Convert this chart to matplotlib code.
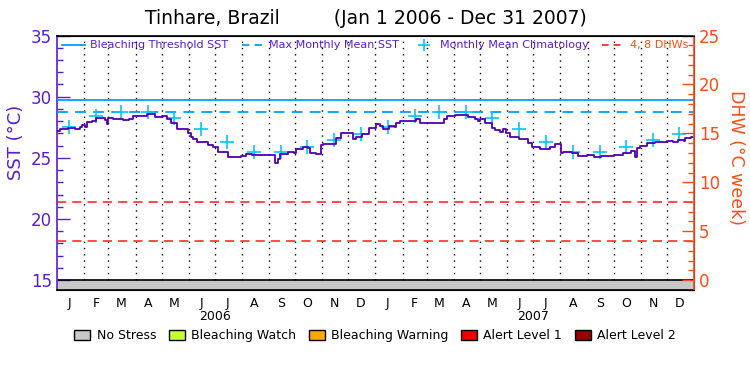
import numpy as np
import pandas as pd
import matplotlib
matplotlib.use('Agg')
import matplotlib.pyplot as plt
from matplotlib.lines import Line2D
from matplotlib.patches import Patch
from matplotlib.ticker import MultipleLocator
import matplotlib.transforms as mtransforms

# --- data ---
start = pd.Timestamp('2006-01-01')
end = pd.Timestamp('2008-01-01')

# daily SST (step changes), days since Jan 1 2006
sst_day = [0, 3, 13, 21, 26, 29, 32, 34, 40, 45, 55, 57, 59, 64, 76, 82, 87, 103,
           112, 120, 126, 131, 137, 150, 154, 156, 160, 173, 179, 185, 196, 211,
           217, 223, 250, 253, 255, 265, 272, 274, 282, 288, 290, 297, 303, 305,
           320, 326, 332, 339, 343, 349, 357, 366, 370, 374, 380, 387, 389, 393,
           412, 416, 433, 443, 447, 456, 471, 479, 483, 485, 490, 498, 502, 508,
           511, 515, 519, 529, 540, 544, 554, 565, 571, 578, 580, 590, 597, 607,
           615, 624, 638, 649, 658, 662, 665, 668, 676, 680, 685, 699, 706, 712,
           718, 720, 727, 730]
sst_val = [27.22, 27.33, 27.44, 27.38, 27.55, 27.68, 27.55, 27.93, 28.03, 28.23,
           28.09, 27.74, 28.23, 28.17, 28.09, 28.20, 28.44, 28.58, 28.36, 28.41,
           28.14, 27.82, 27.33, 27.00, 26.73, 26.52, 26.28, 26.06, 25.92, 25.46,
           25.08, 25.16, 25.30, 25.24, 24.57, 24.90, 25.30, 25.51, 25.42, 25.71,
           25.92, 25.80, 25.38, 25.30, 26.06, 26.14, 26.60, 27.00, 27.06, 26.52,
           26.68, 26.92, 27.41, 27.76, 27.60, 27.33, 27.60, 27.55, 27.87, 27.98,
           28.14, 27.87, 27.82, 28.20, 28.41, 28.50, 28.36, 28.14, 28.05, 28.20,
           27.87, 27.47, 27.25, 27.15, 27.33, 27.00, 26.73, 26.52, 26.25, 25.92,
           25.73, 25.90, 26.11, 25.43, 25.51, 25.38, 25.19, 25.24, 25.11, 25.16,
           25.24, 25.38, 25.57, 25.11, 25.79, 25.98, 26.20, 26.25, 26.33, 26.38,
           26.33, 26.46, 26.40, 26.60, 26.68, 26.68]

# monthly mean climatology (same for each year)
clim = [27.52, 28.41, 28.72, 28.72, 28.28, 27.33, 26.28, 25.49, 25.49, 25.92, 26.46, 26.95]
mmm = 28.72
threshold = 29.72
dhw_levels = [4, 8]

month_letters = ['J', 'F', 'M', 'A', 'M', 'J', 'J', 'A', 'S', 'O', 'N', 'D']
years = [2006, 2007]

stress_names = ['No Stress', 'Bleaching Watch', 'Bleaching Warning', 'Alert Level 1', 'Alert Level 2']
stress_colors = ['#c8c8c8', '#c8ff32', '#ffaa00', '#f00000', '#960000']

# --- colors ---
purple = '#5a1ecc'
line_purple = '#5000b4'
orange = '#ff4b14'
blue = '#00a0ff'
cyan = '#00c8ff'

# SST -> DHW mapping: 15..35 degC  <->  0..25 DHW
def sst_to_dhw(v):
    return (v - 15) * 1.25

def dhw_to_sst(v):
    return 15 + v / 1.25

fig = plt.figure(figsize=(7.5, 3.75), dpi=100)
ax = fig.add_axes([0.076, 0.2267, 0.8493, 0.6786])

ymin, ymax = 14.2, 35
ax.set_xlim(start, end)
ax.set_ylim(ymin, ymax)

# stress band at the bottom
ax.axhspan(ymin, 15, color=stress_colors[0], zorder=1)
ax.axhline(15, color='black', lw=1.2, zorder=2)

# monthly dotted grid
month_starts = pd.date_range('2006-02-01', '2007-12-01', freq='MS')
ax.vlines(month_starts, 15, ymax, colors='black', linestyles=(0, (1, 3.5)), lw=1.0, zorder=1)

# reference lines
ax.axhline(threshold, color=blue, lw=1.3, zorder=3)
ax.axhline(mmm, color=blue, lw=1.3, ls=(0, (6, 4)), zorder=3)
for d in dhw_levels:
    ax.axhline(dhw_to_sst(d), color='#ff1a1a', lw=1.1, ls=(0, (6, 4)), zorder=3)

# climatology crosses
mid_months = []
clim_all = []
for y in years:
    for m in range(12):
        mid_months.append(pd.Timestamp(year=y, month=m + 1, day=15))
        clim_all.append(clim[m])
ax.plot(mid_months, clim_all, ls='none', marker='+', ms=10, mew=1.2, color=cyan, zorder=4)

# SST series
sst_dates = [start + pd.Timedelta(days=d) for d in sst_day]
ax.plot(sst_dates, sst_val, drawstyle='steps-post', color=line_purple, lw=1.3, zorder=5)

# left axis styling
ax.yaxis.set_minor_locator(MultipleLocator(1))
ax.set_yticks([15, 20, 25, 30, 35])
ax.tick_params(axis='y', which='major', direction='in', length=9, width=1, colors=purple, labelsize=12)
ax.tick_params(axis='y', which='minor', direction='in', length=4.5, width=1, colors=purple)
ax.spines['left'].set_color(purple)
ax.spines['left'].set_linewidth(1.2)
ax.spines['top'].set_linewidth(1.2)
ax.spines['bottom'].set_linewidth(1.2)
ax.set_ylabel('SST (°C)', color=purple, fontsize=13)
ax.yaxis.set_label_coords(-0.05, 0.58)

# month labels
ax.set_xticks(mid_months)
ax.set_xticklabels(month_letters * 2, fontsize=9)
ax.tick_params(axis='x', which='both', length=0, pad=5)
trans = mtransforms.blended_transform_factory(ax.transData, ax.transAxes)
for y in years:
    ax.text(pd.Timestamp(year=y, month=7, day=1), -0.08, str(y), transform=trans,
            ha='center', va='top', fontsize=9)

# right axis (DHW)
ax2 = ax.twinx()
ax2.set_ylim(sst_to_dhw(ymin), sst_to_dhw(ymax))
ax2.set_yticks([0, 5, 10, 15, 20, 25])
ax2.yaxis.set_minor_locator(MultipleLocator(1))
ax2.tick_params(axis='y', which='major', direction='in', length=9, width=1, colors=orange, labelsize=12)
ax2.tick_params(axis='y', which='minor', direction='in', length=4.5, width=1, colors=orange)
ax2.spines['right'].set_color(orange)
ax2.spines['right'].set_linewidth(1.2)
ax2.spines['left'].set_visible(False)
ax2.set_ylabel('DHW (°C week)', color=orange, fontsize=12.5, rotation=270, va='center')
ax2.yaxis.set_label_coords(1.066, 0.52)

# top legend
handles = [
    Line2D([], [], color=blue, lw=1.3),
    Line2D([], [], color=blue, lw=1.3, ls=(0, (4, 3))),
    Line2D([], [], color=cyan, ls='none', marker='+', ms=9, mew=1.2),
    Line2D([], [], color='#ff1a1a', lw=1.2, ls=(0, (4, 3))),
]
labels = ['Bleaching Threshold SST', 'Max Monthly Mean SST', 'Monthly Mean Climatology', '4, 8 DHWs']
leg = ax.legend(handles, labels, loc='upper center', bbox_to_anchor=(0.5, 1.02), ncol=4,
                frameon=False, fontsize=8, handlelength=2.0, handletextpad=0.5,
                columnspacing=1.2,
                labelcolor=[purple, purple, purple, orange])
leg.set_zorder(6)

# title
fig.text(0.488, 0.952, 'Tinhare, Brazil         (Jan 1 2006 - Dec 31 2007)', ha='center',
         va='center', fontsize=13.5)

# bottom stress legend
patches = [Patch(facecolor=c, edgecolor='black', lw=1) for c in stress_colors]
fig.legend(patches, stress_names, loc='center', bbox_to_anchor=(0.5, 0.105), ncol=5,
           frameon=False, fontsize=9, handlelength=1.3, handleheight=0.9,
           handletextpad=0.5, columnspacing=1.0)

fig.savefig('out.png', dpi=100)
